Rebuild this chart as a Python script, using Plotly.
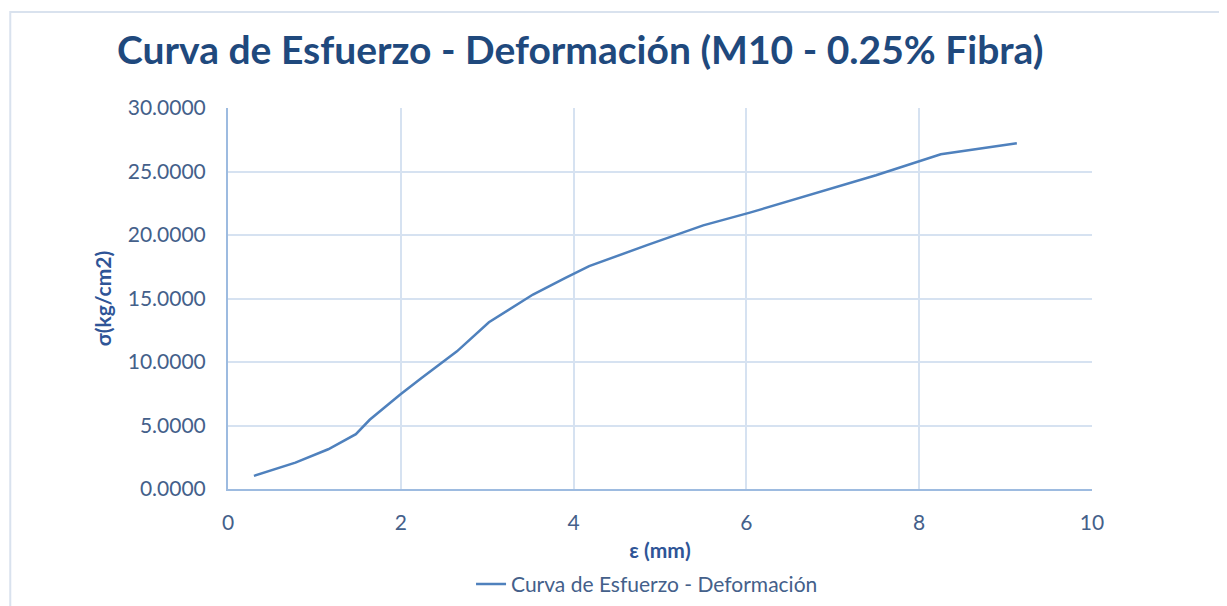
import plotly.graph_objects as go

# deformación (mm) y esfuerzo (kg/cm2)
deformacion = [0.30, 0.78, 1.16, 1.48, 1.64, 1.99, 2.24, 2.65, 3.02, 3.53, 3.90, 4.18, 4.85, 5.50, 6.04, 6.76, 7.50, 8.25, 9.13]
esfuerzo = [1.03, 2.08, 3.13, 4.32, 5.45, 7.42, 8.74, 10.84, 13.13, 15.31, 16.60, 17.55, 19.20, 20.76, 21.76, 23.20, 24.70, 26.36, 27.23]

titulo = "Curva de Esfuerzo - Deformación (M10 - 0.25% Fibra)"
serie = "Curva de Esfuerzo - Deformación"

AZUL_TEXTO = "#2F5597"
GRID = "#D6E2F1"
FUENTE = "Lato"

fig = go.Figure()
fig.add_trace(go.Scatter(x=deformacion, y=esfuerzo, mode="lines", name=serie,
                         line=dict(color="#4F81BD", width=2.5), showlegend=True))

fig.update_layout(
    width=1219, height=598,
    margin=dict(l=220, r=135, t=100, b=117, autoexpand=False),
    paper_bgcolor="white", plot_bgcolor="white",
    font=dict(family=FUENTE, color="#44608A", size=21),
    title=dict(text="<b>" + titulo + "</b>", x=109 / 1219, xanchor="left", y=1 - 42 / 598, yanchor="middle",
               font=dict(family=FUENTE, size=39, color="#1F497D")),
    showlegend=True,
    legend=dict(orientation="h", x=0.485, xanchor="center", y=-0.25, yanchor="middle",
                font=dict(size=21, color="#44608A")),
    xaxis=dict(range=[0, 10], dtick=2, showgrid=True, gridcolor=GRID, gridwidth=1.5,
               showline=True, linecolor="#9DBBE0", linewidth=2, zeroline=False, ticks="",
               ticklabelstandoff=14,
               title=dict(text="<b>ε (mm)</b>", font=dict(size=21, color=AZUL_TEXTO), standoff=10)),
    yaxis=dict(range=[0, 30], dtick=5, tickformat=".4f", showgrid=True, gridcolor=GRID, gridwidth=1.5,
               showline=True, linecolor="#9DBBE0", linewidth=2, zeroline=False, ticks="",
               ticklabelstandoff=16,
               title=dict(text="<b>σ(kg/cm2)</b>", font=dict(size=21, color=AZUL_TEXTO), standoff=10)),
    shapes=[dict(type="rect", xref="paper", yref="paper", x0=-0.252, x1=1.154, y0=-0.4, y1=1.252,
                 line=dict(color="#D9E2EE", width=2), fillcolor="rgba(0,0,0,0)", layer="below")],
)

fig.write_html("out.html")
